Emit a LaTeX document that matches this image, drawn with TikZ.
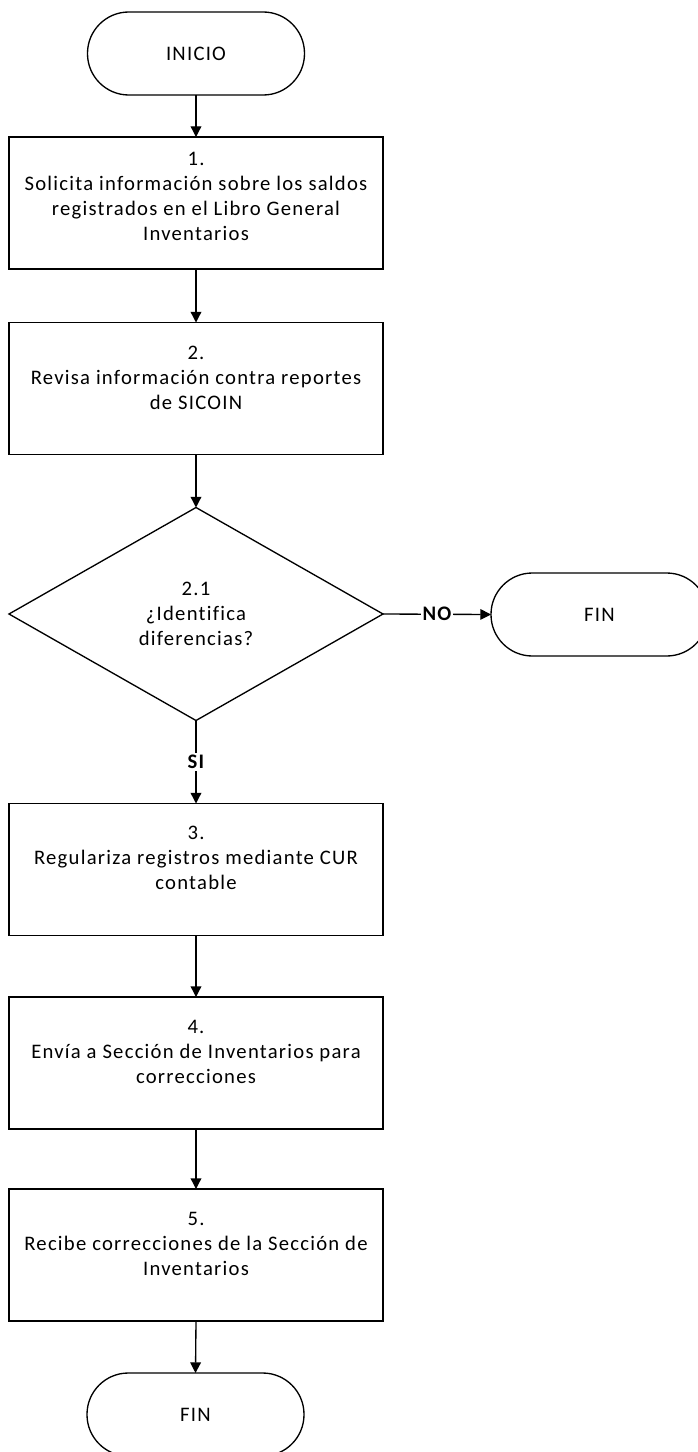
\documentclass[tikz,border=0pt]{standalone}
\usepackage{fontspec}
\setmainfont[LetterSpace=6,Ligatures=NoCommon]{Carlito}
\usetikzlibrary{arrows.meta,shapes.geometric}
\begin{document}
\begin{tikzpicture}[x=0.75pt,y=-0.75pt,
  line width=1pt,
  every node/.style={outer sep=0pt, inner sep=0pt, font=\fontsize{15.5}{18.75}\selectfont},
  term/.style={draw, rectangle, rounded corners=31pt, minimum width=162.75pt, minimum height=62.25pt},
  stepbox/.style={draw, rectangle, minimum width=280.5pt, minimum height=99pt},
  txt/.style={align=center},
  decision/.style={draw, diamond, minimum width=280.5pt, minimum height=159.75pt, align=center},
  arr/.style={-{Triangle[length=8pt,width=8pt]}},
  lbl/.style={font=\fontsize{15.5}{18.75}\selectfont\bfseries, fill=white, inner sep=1.5pt}
]
\useasboundingbox (0,0) rectangle (698,1452);
\node[term] (ini) at (196,53.5) {INICIO};
\node[stepbox] (b1) at (196,203) {};
\node[txt] (t1) at (196,196) {1.\\Solicita información sobre los saldos\\registrados en el Libro General\\Inventarios};
\node[stepbox] (b2) at (196,388.5) {};
\node[txt] (t2) at (196,377.5) {2.\\Revisa información contra reportes\\de SICOIN};
\node[decision] (dec) at (196,614) {2.1\\¿Identifica\\diferencias?};
\node[term] (finr) at (599.5,614.5) {FIN};
\node[stepbox] (b3) at (196,869.5) {};
\node[txt] (t3) at (196,858) {3.\\Regulariza registros mediante CUR\\contable};
\node[stepbox] (b4) at (196,1063) {};
\node[txt] (t4) at (196,1051.5) {4.\\Envía a Sección de Inventarios para\\correcciones};
\node[stepbox] (b5) at (196,1255) {};
\node[txt] (t5) at (196,1243.5) {5.\\Recibe correcciones de la Sección de\\Inventarios};
\node[term] (fin) at (195.5,1414.5) {FIN};
\draw[arr] (ini) -- (b1);
\draw[arr] (b1) -- (b2);
\draw[arr] (b2) -- (dec);
\draw[arr] (dec.east) -- node[lbl] (no) {NO} (finr.west);
\draw[arr] (dec.south) -- node[lbl] (si) {SI} (b3.north);
\draw[arr] (b3) -- (b4);
\draw[arr] (b4) -- (b5);
\draw[arr] (b5.south) -- (fin.north);
\end{tikzpicture}
\end{document}
